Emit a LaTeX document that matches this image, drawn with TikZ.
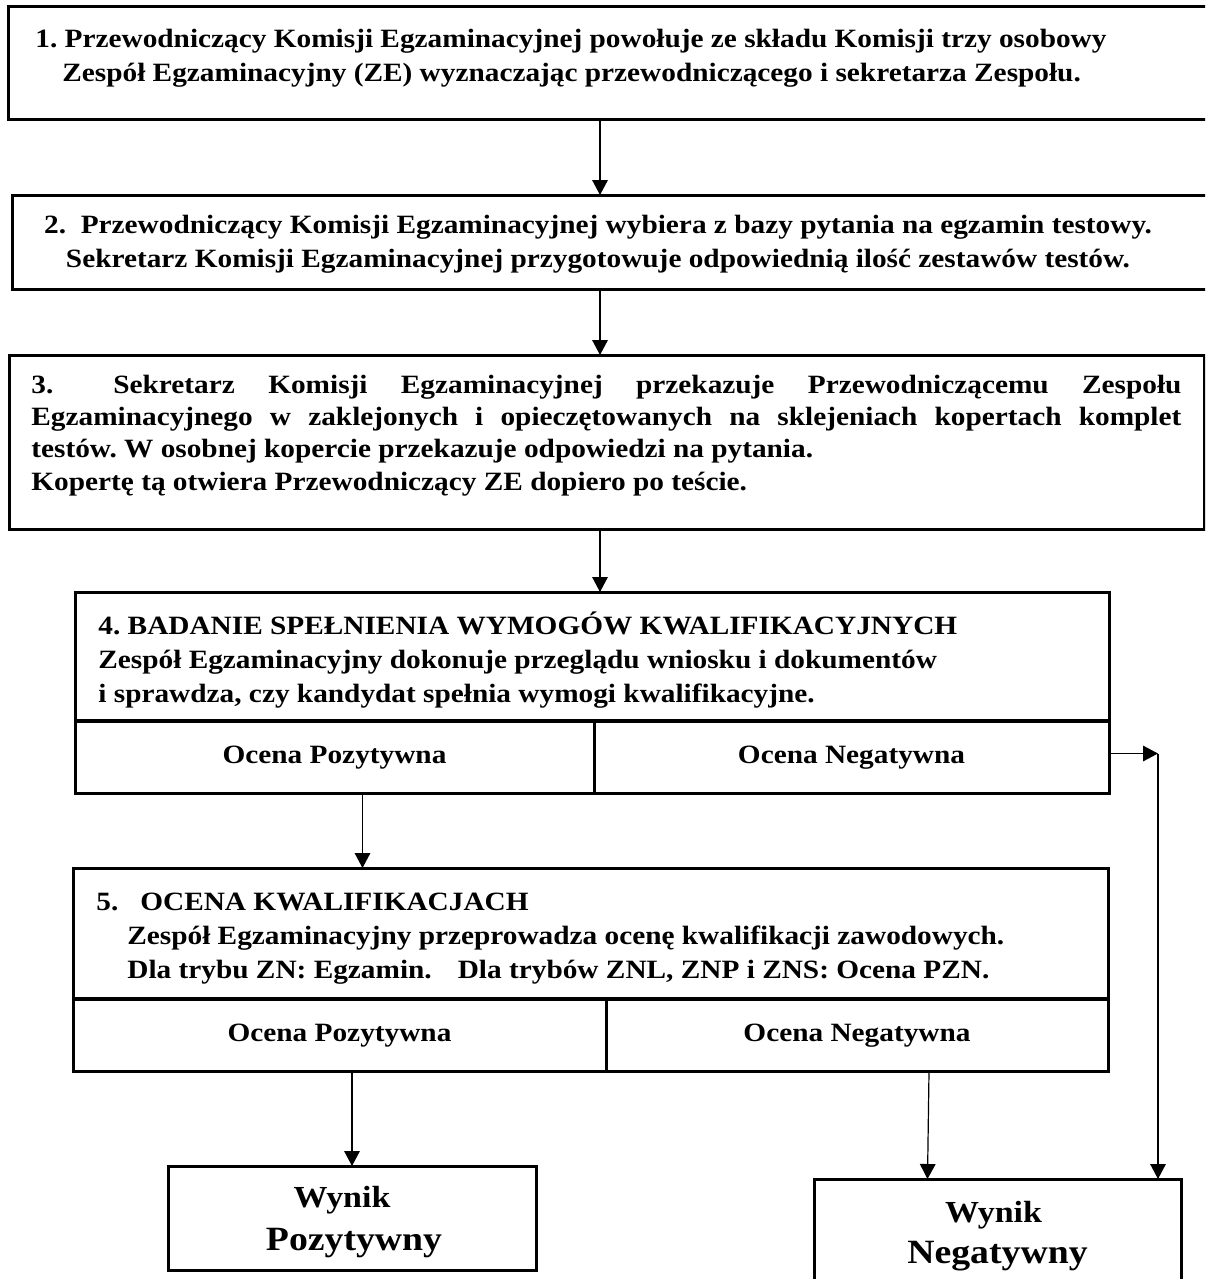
\documentclass[tikz,border=0pt]{standalone}
\usepackage{fontspec}
\setmainfont{Liberation Serif}[FakeStretch=1.11]
\usetikzlibrary{arrows.meta,positioning,calc}

\tikzset{
  blok/.style={draw, line width=1.5pt, inner sep=0pt, outer sep=0pt, anchor=north west},
  tekst/.style={inner sep=0pt, anchor=base west, align=left},
  strz/.style={line width=0.6pt, -{Triangle[length=7.5pt,width=7.8pt]}}
}

\begin{document}
\frenchspacing
\begin{tikzpicture}[x=0.5pt,y=-0.5pt,every node/.style={font=\bfseries\fontsize{13.2}{17}\selectfont}]
\useasboundingbox (0,0) rectangle (1205,1279);
\clip (0,0) rectangle (1205,1279);

% boxes of steps 1-3 (they run over the right edge)
\node[blok, minimum width=603.5pt, minimum height=56.5pt] (k1) at (8,7) {};
\node[blok, minimum width=601.5pt, minimum height=47pt] (k2) at (12,195) {};
\node[blok, minimum width=597.5pt, minimum height=87pt] (k3) at (9,355) {};

% (the base of a text with several lines is its last line)
\node[tekst] (t1) at ([shift={(27,75)}]k1.north west)
  {1. Przewodniczący Komisji Egzaminacyjnej powołuje ze składu Komisji trzy osobowy\\
   \hspace*{13.5pt}Zespół Egzaminacyjny (ZE) wyznaczając przewodniczącego i sekretarza Zespołu.};
\node[tekst, anchor=base, align=center] (t2) at ([shift={(586,72)}]k2.north west)
  {2.\ \ Przewodniczący Komisji Egzaminacyjnej wybiera z bazy pytania na egzamin testowy.\\
   Sekretarz Komisji Egzaminacyjnej przygotowuje odpowiednią ilość zestawów testów.};
\node[tekst, text width=575pt, align=justify, font=\bfseries\fontsize{13.2}{16.2}\selectfont] (t3)
  at ([shift={(22,38)}]k3.north west)
  {3.\hspace{30pt}Sekretarz Komisji Egzaminacyjnej przekazuje Przewodniczącemu Zespołu\linebreak
   Egzaminacyjnego w zaklejonych i opieczętowanych na sklejeniach kopertach komplet\linebreak
   testów. W osobnej kopercie przekazuje odpowiedzi na pytania.\\
   Kopertę tą otwiera Przewodniczący ZE dopiero po teście.};

% step 4 with its two results
\node[blok, minimum width=517pt, minimum height=64pt] (k4) at (75,592) {};
\node[blok, minimum width=259.5pt, minimum height=36pt] (k4p) at ([yshift=-0.75pt]k4.south west) {Ocena Pozytywna};
\node[blok, minimum width=257.5pt, minimum height=36pt] (k4n) at (k4p.north east) {Ocena Negatywna};
\node[tekst, font=\bfseries\fontsize{13.2}{16.8}\selectfont] (t4) at ([shift={(23,110)}]k4.north west)
  {4. BADANIE SPEŁNIENIA WYMOGÓW KWALIFIKACYJNYCH\\
   Zespół Egzaminacyjny dokonuje przeglądu wniosku i dokumentów\\
   i sprawdza, czy kandydat spełnia wymogi kwalifikacyjne.};

% step 5 with its two results
\node[blok, minimum width=517.5pt, minimum height=65pt] (k5) at (73,868) {};
\node[blok, minimum width=266.5pt, minimum height=36pt] (k5p) at ([yshift=-0.75pt]k5.south west) {Ocena Pozytywna};
\node[blok, minimum width=251pt, minimum height=36pt] (k5n) at (k5p.north east) {Ocena Negatywna};
\node[tekst] (t5) at ([shift={(23,110)}]k5.north west)
  {5.\ \ \ OCENA KWALIFIKACJACH\\
   \hspace*{15.5pt}Zespół Egzaminacyjny przeprowadza ocenę kwalifikacji zawodowych.\\
   \hspace*{15.5pt}Dla trybu ZN: Egzamin.\hspace{13pt}Dla trybów ZNL, ZNP i ZNS: Ocena PZN.};

% final results
\node[blok, minimum width=184pt, minimum height=52pt] (wp) at (168,1166) {};
\node[blok, minimum width=183.5pt, minimum height=62pt] (wn) at (814,1179) {};
\node[inner sep=0pt, anchor=base, font=\bfseries\fontsize{15.3}{18}\selectfont] (wp1)
  at ([shift={(-5pt,-20.5pt)}]wp.north) {Wynik};
\node[inner sep=0pt, anchor=base, font=\bfseries\fontsize{17}{20}\selectfont] (wp2)
  at ([shift={(1pt,-42pt)}]wp.north) {Pozytywny};
\node[inner sep=0pt, anchor=base, font=\bfseries\fontsize{15.3}{18}\selectfont] (wn1)
  at ([shift={(-2pt,-21.5pt)}]wn.north) {Wynik};
\node[inner sep=0pt, anchor=base, font=\bfseries\fontsize{17}{20}\selectfont] (wn2)
  at ([shift={(0pt,-42pt)}]wn.north) {Negatywny};

% connectors
\coordinate (os) at (600,0);
\draw[strz] (os |- k1.south) -- (os |- k2.north);
\draw[strz] (os |- k2.south) -- (os |- k3.north);
\draw[strz] (os |- k3.south) -- (os |- k4.north);
\draw[strz] ([xshift=14pt]k4p.south) -- ([xshift=14pt]k4p.south |- k5.north);
\draw[strz] (wp.north |- k5p.south) -- (wp.north);
\draw[strz] ([xshift=36pt]k5n.south) -- ([xshift=-35pt]wn.north);
\coordinate (pr) at ([shift={(24.5pt,2pt)}]k4n.east);
\draw[strz] (k4n.east |- pr) -- (pr);
\draw[strz] (pr) -- (pr |- wn.north);
\end{tikzpicture}
\end{document}
